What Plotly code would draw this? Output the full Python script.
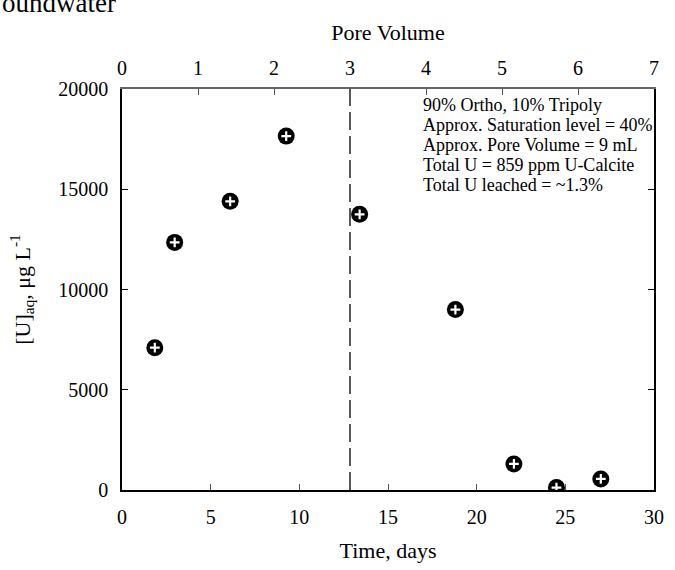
import plotly.graph_objects as go

# Data
time_days = [1.85, 2.97, 6.1, 9.26, 13.4, 18.8, 22.1, 24.5, 27.0]
u_aq = [7100, 12350, 14400, 17650, 13750, 9000, 1300, 120, 550]
pv_marker = [3, 3]
pv_marker_y = [0, 20000]
x_ticks = [0, 5, 10, 15, 20, 25, 30]
pv_ticks = [0, 1, 2, 3, 4, 5, 6, 7]
y_ticks = [0, 5000, 10000, 15000, 20000]
y_tick_text = ["0", "5000", "10000", "15000", "20000"]
info_lines = [
    "90% Ortho, 10% Tripoly",
    "Approx. Saturation level = 40%",
    "Approx. Pore Volume = 9 mL",
    "Total U = 859 ppm U-Calcite",
    "Total U leached = ~1.3%",
]

FONT = "Liberation Serif, Times New Roman, serif"
W, H = 675, 570
L, R, T, B = 122, 11, 89, 78

fig = go.Figure()
fig.add_trace(go.Scatter(
    x=pv_marker, y=pv_marker_y, xaxis="x2", yaxis="y", mode="lines",
    line=dict(color="black", width=1.3, dash="18px,6px"), showlegend=False, hoverinfo="skip"))
fig.add_trace(go.Scatter(
    x=time_days, y=u_aq, mode="markers",
    marker=dict(symbol="circle", size=17, color="black", line=dict(width=0)),
    showlegend=False))
fig.add_trace(go.Scatter(
    x=time_days, y=u_aq, mode="markers",
    marker=dict(symbol="cross-thin", size=7, color="white", line=dict(width=2.2, color="white")),
    showlegend=False, hoverinfo="skip"))

fig.update_layout(
    width=W, height=H,
    margin=dict(l=L, r=R, t=T, b=B),
    paper_bgcolor="white", plot_bgcolor="white",
    font=dict(family=FONT, size=20, color="black"),
    xaxis=dict(range=[0, 30], tickvals=x_ticks, ticks="inside", ticklen=6, tickcolor="#555",
               showline=True, linecolor="black", linewidth=1.5, showgrid=False, zeroline=False,
               mirror=False, ticklabelstandoff=8, tickfont=dict(size=20),
               title=dict(text="Time, days", standoff=16, font=dict(size=22))),
    xaxis2=dict(range=[0, 7], tickvals=pv_ticks, overlaying="x", side="top", anchor="y",
                ticks="inside", ticklen=6, tickcolor="#555", showline=True, linecolor="#666",
                linewidth=2, showgrid=False, zeroline=False, ticklabelstandoff=4,
                tickfont=dict(size=20),
                title=dict(text="Pore Volume", standoff=10, font=dict(size=22))),
    yaxis=dict(range=[0, 20000], tickvals=y_ticks, ticktext=y_tick_text, ticks="inside",
               ticklen=6, tickcolor="black",
               showline=True, linecolor="black", linewidth=1.5, mirror="ticks",
               showgrid=False, zeroline=False, ticklabelstandoff=8, tickfont=dict(size=20),
               title=dict(text="[U]<sub>aq</sub>, μg L<sup>-1</sup>", standoff=22,
                          font=dict(size=22))),
)

for i, line in enumerate(info_lines):
    fig.add_annotation(
        xref="paper", yref="paper",
        x=(427 - L) / (W - L - R), y=1 - (105 + 20 * i - T) / (H - T - B),
        xanchor="left", yanchor="middle", showarrow=False,
        text=line, font=dict(family=FONT, size=18, color="black"))

fig.add_annotation(
    xref="paper", yref="paper", x=(-2 - L) / (W - L - R), y=1 + (T - 3) / (H - T - B),
    xanchor="left", yanchor="middle", showarrow=False,
    text="oundwater", font=dict(family=FONT, size=27, color="black"))

fig.write_html("out.html")
